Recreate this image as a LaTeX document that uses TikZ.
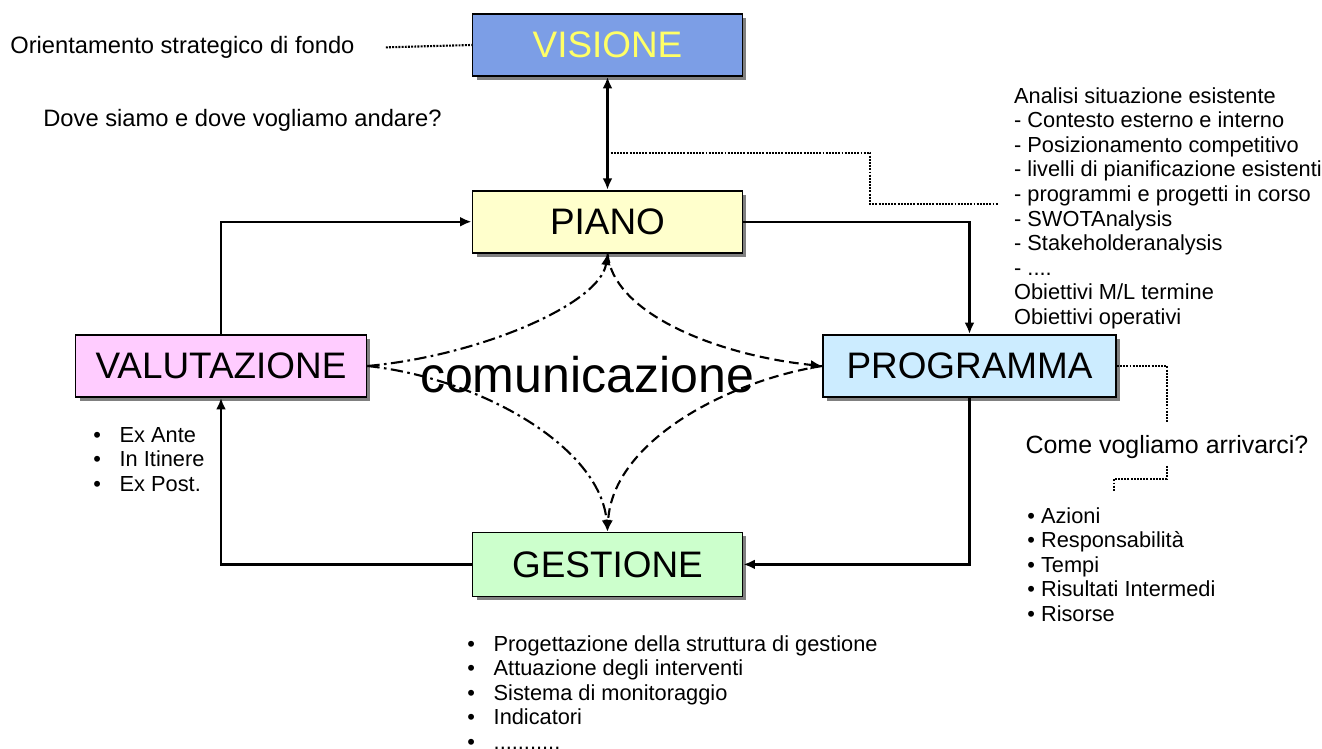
\documentclass[tikz,border=0pt]{standalone}
\usepackage{fontspec}
\setmainfont{Liberation Sans}
\usetikzlibrary{arrows.meta, positioning, shadows}
\definecolor{visioneFill}{RGB}{124,158,230}
\definecolor{visioneText}{RGB}{255,255,102}
\definecolor{pianoFill}{RGB}{255,255,204}
\definecolor{programmaFill}{RGB}{204,236,255}
\definecolor{valutazioneFill}{RGB}{255,204,255}
\definecolor{gestioneFill}{RGB}{204,255,204}
\newcommand{\blt}{\makebox[15pt][l]{\textbullet}}

\begin{document}
\begin{tikzpicture}[x=0.02cm, y=-0.02cm,
    >={Latex[length=6.5pt,width=5.5pt]},
    box/.style={rectangle, draw, line width=1pt, minimum width=5.4cm, minimum height=1.24cm, inner sep=0pt, font=\fontsize{21}{25}\selectfont, drop shadow={shadow xshift=0.08cm, shadow yshift=-0.08cm, fill=black!50, opacity=1}},
    txt/.style={inner sep=0pt, align=left, font=\fontsize{12.4}{14}\selectfont},
    flow/.style={->, line width=1.3pt},
    dotline/.style={line width=1.2pt, dash pattern=on 1.1pt off 0.7pt},
    commdashdot/.style={->, line width=1.2pt, dash pattern=on 7pt off 2.5pt on 1.5pt off 2.5pt},
    commdashed/.style={->, line width=1.2pt, dash pattern=on 5.5pt off 3pt}
  ]
    \useasboundingbox (0,0) rectangle (1322,749);

    % Boxes (cycle)
    \node[box, fill=visioneFill, text=visioneText] (VISIONE) at (607.5,45) {VISIONE};
    \node[box, fill=pianoFill, below=2.26cm of VISIONE] (PIANO) {PIANO};
    \node[box, fill=programmaFill, minimum width=5.86cm] (PROGRAMMA) at (969.5,366) {PROGRAMMA};
    \node[box, fill=valutazioneFill, minimum width=5.82cm] (VALUTAZIONE) at (221,366) {VALUTAZIONE};
    \node[box, fill=gestioneFill, minimum height=1.28cm, below=5.56cm of PIANO] (GESTIONE) {GESTIONE};

    % Side texts
    \node[txt, font=\fontsize{13.5}{14}\selectfont, anchor=base west] (orient) at (10,53.5) {Orientamento strategico di fondo};
    \node[txt, font=\fontsize{13.5}{14}\selectfont, anchor=base west] (dove) at (43,126.5) {Dove siamo e dove vogliamo andare?};
    \node[txt, anchor=north west, inner xsep=9pt] (analisi) at (998,87) {Analisi situazione esistente\\- Contesto esterno e interno\\- Posizionamento competitivo\\- livelli di pianificazione esistenti\\- programmi e progetti in corso\\- SWOTAnalysis\\- Stakeholderanalysis\\- ....\\Obiettivi M/L termine\\Obiettivi operativi};
    \node[txt, font=\fontsize{14.2}{16}\selectfont, anchor=base, inner ysep=6.9pt, text depth=0pt] (come) at (1167,453.5) {Come vogliamo arrivarci?};
    \node[txt, anchor=north west] (azioni) at (1027,507) {\textbullet{} Azioni\\\textbullet{} Responsabilità\\\textbullet{} Tempi\\\textbullet{} Risultati Intermedi\\\textbullet{} Risorse};
    \node[txt, anchor=north west] (fasi) at (93,427) {\blt Ex Ante\\\blt In Itinere\\\blt Ex Post.};
    \node[txt, anchor=north west] (attivita) at (467,635) {\blt Progettazione della struttura di gestione\\\blt Attuazione degli interventi\\\blt Sistema di monitoraggio\\\blt Indicatori\\\blt ...........};

    % Main cycle arrows
    \draw[<->, line width=1.3pt] (VISIONE) -- (PIANO);
    \draw[flow] (PIANO.east) -| (PROGRAMMA.north);
    \draw[flow] (PROGRAMMA.south) |- (GESTIONE.east);
    \draw[flow] (GESTIONE.west) -| (VALUTAZIONE.south);
    \draw[flow] (VALUTAZIONE.north) |- (PIANO.west);

    % Dotted leaders
    \path (VISIONE.south) -- (PIANO.north) coordinate[pos=0.67] (vp);
    \coordinate (bend) at (870,204);
    \coordinate (azTop) at (1114,492);
    \draw[dotline] (orient.east) ++(31,0) -- (VISIONE.west);
    \draw[dotline] (vp) -| (bend) -- (bend -| analisi.west);
    \draw[dotline] (PROGRAMMA.east) -| (come.north);
    \draw[dotline] (come.south) -- ++(0,13) -| (azTop);

    % Communication curves
    \draw[commdashdot] (VALUTAZIONE.east) .. controls +(112,-10) and +(-7,50) .. (PIANO.south);
    \draw[commdashed] (PIANO.south) .. controls +(6,62) and +(-100,-10) .. (PROGRAMMA.west);
    \draw[commdashdot] (VALUTAZIONE.east) .. controls +(112,12) and +(-7,-85) .. (GESTIONE.north);
    \draw[commdashed] (PROGRAMMA.west) .. controls +(-95,15) and +(5,-90) .. (GESTIONE.north);

    \node[font=\fontsize{28.5}{34}\selectfont, anchor=base, inner sep=0pt] (comm) at (587,393) {comunicazione};

  \end{tikzpicture}
\end{document}
